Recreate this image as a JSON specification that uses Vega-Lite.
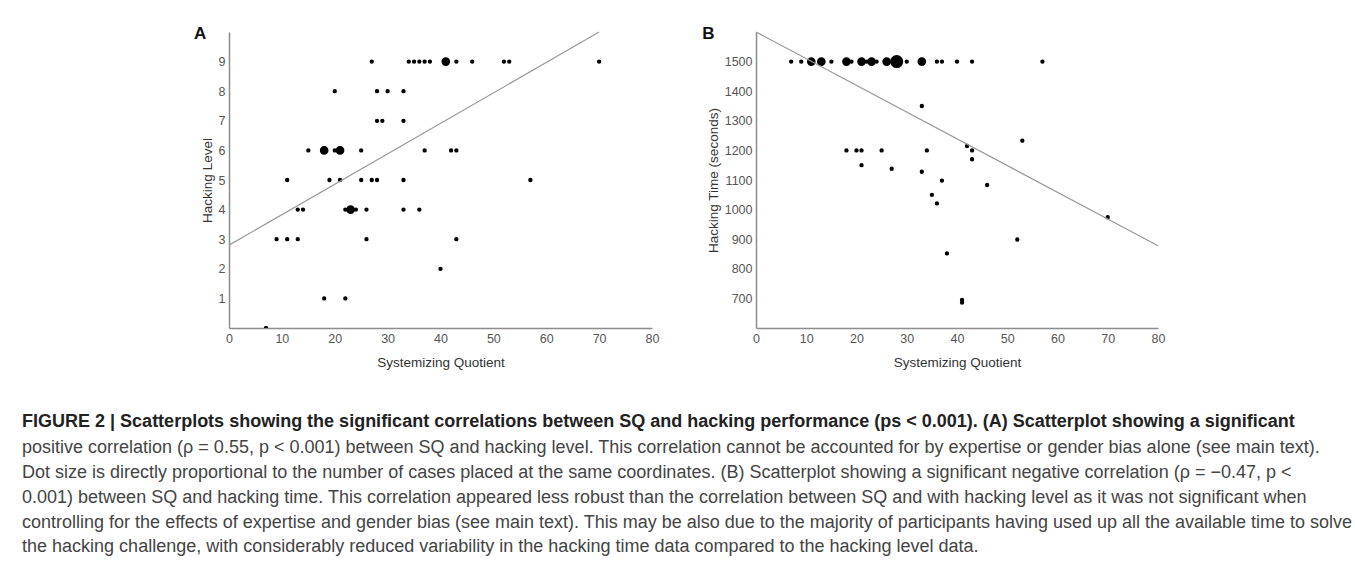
{
  "$schema": "https://vega.github.io/schema/vega-lite/v6.json",
  "background": "white",
  "padding": {"left": 22, "top": 24, "right": 5, "bottom": 5},
  "config": {
    "view": {"stroke": null},
    "font": "Liberation Sans",
    "axis": {
      "domainColor": "#8c8c8c", "domainWidth": 1.5, "ticks": false, "grid": false,
      "labelColor": "#555555", "labelFontSize": 12.5, "labelFont": "Liberation Sans",
      "titleFont": "Liberation Sans", "titleFontSize": 13.5, "titleColor": "#333333",
      "titleFontWeight": "normal", "labelOverlap": false
    },
    "axisX": {"labelPadding": 4, "titlePadding": 11, "labelFlush": false},
    "axisY": {"labelPadding": 4, "titlePadding": 4}
  },
  "title": {
    "text": "FIGURE 2 | Scatterplots showing the significant correlations between SQ and hacking performance (ps < 0.001). (A) Scatterplot showing a significant",
    "subtitle": [
      "positive correlation (ρ = 0.55, p < 0.001) between SQ and hacking level. This correlation cannot be accounted for by expertise or gender bias alone (see main text).",
      "Dot size is directly proportional to the number of cases placed at the same coordinates. (B) Scatterplot showing a significant negative correlation (ρ = −0.47, p <",
      "0.001) between SQ and hacking time. This correlation appeared less robust than the correlation between SQ and with hacking level as it was not significant when",
      "controlling for the effects of expertise and gender bias (see main text). This may be also due to the majority of participants having used up all the available time to solve",
      "the hacking challenge, with considerably reduced variability in the hacking time data compared to the hacking level data."
    ],
    "orient": "bottom", "anchor": "start", "frame": "bounds",
    "font": "Liberation Sans", "fontSize": 18, "fontWeight": "bold", "color": "#222222",
    "subtitleFont": "Liberation Sans", "subtitleFontSize": 18, "subtitleColor": "#444444",
    "subtitleFontWeight": "normal", "subtitleLineHeight": 24.8, "subtitlePadding": 8.2,
    "offset": 44, "dx": -172
  },
  "spacing": 43,
  "resolve": {"scale": {"x": "independent", "y": "independent", "size": "independent"}},
  "hconcat": [
    {
      "width": 423, "height": 296,
      "title": {"text": "A", "anchor": "start", "frame": "bounds", "fontSize": 17, "fontWeight": "bold", "color": "#111111", "offset": 0, "dx": -6, "dy": 13},
      "layer": [
        {
          "data": {"values": [
            {"sq": 27, "level": 9, "n": 1}, {"sq": 34, "level": 9, "n": 1}, {"sq": 35, "level": 9, "n": 1}, {"sq": 36, "level": 9, "n": 1},
            {"sq": 37, "level": 9, "n": 1}, {"sq": 38, "level": 9, "n": 1}, {"sq": 41, "level": 9, "n": 2}, {"sq": 43, "level": 9, "n": 1},
            {"sq": 46, "level": 9, "n": 1}, {"sq": 52, "level": 9, "n": 1}, {"sq": 53, "level": 9, "n": 1}, {"sq": 70, "level": 9, "n": 1},
            {"sq": 20, "level": 8, "n": 1}, {"sq": 28, "level": 8, "n": 1}, {"sq": 30, "level": 8, "n": 1}, {"sq": 33, "level": 8, "n": 1},
            {"sq": 28, "level": 7, "n": 1}, {"sq": 29, "level": 7, "n": 1}, {"sq": 33, "level": 7, "n": 1},
            {"sq": 15, "level": 6, "n": 1}, {"sq": 18, "level": 6, "n": 2}, {"sq": 20, "level": 6, "n": 1}, {"sq": 21, "level": 6, "n": 2},
            {"sq": 25, "level": 6, "n": 1}, {"sq": 37, "level": 6, "n": 1}, {"sq": 42, "level": 6, "n": 1}, {"sq": 43, "level": 6, "n": 1},
            {"sq": 11, "level": 5, "n": 1}, {"sq": 19, "level": 5, "n": 1}, {"sq": 21, "level": 5, "n": 1}, {"sq": 25, "level": 5, "n": 1},
            {"sq": 27, "level": 5, "n": 1}, {"sq": 28, "level": 5, "n": 1}, {"sq": 33, "level": 5, "n": 1}, {"sq": 57, "level": 5, "n": 1},
            {"sq": 13, "level": 4, "n": 1}, {"sq": 14, "level": 4, "n": 1}, {"sq": 22, "level": 4, "n": 1}, {"sq": 23, "level": 4, "n": 2},
            {"sq": 24, "level": 4, "n": 1}, {"sq": 26, "level": 4, "n": 1}, {"sq": 33, "level": 4, "n": 1}, {"sq": 36, "level": 4, "n": 1},
            {"sq": 9, "level": 3, "n": 1}, {"sq": 11, "level": 3, "n": 1}, {"sq": 13, "level": 3, "n": 1}, {"sq": 26, "level": 3, "n": 1},
            {"sq": 43, "level": 3, "n": 1},
            {"sq": 40, "level": 2, "n": 1},
            {"sq": 18, "level": 1, "n": 1}, {"sq": 22, "level": 1, "n": 1},
            {"sq": 7, "level": 0, "n": 1}
          ]},
          "mark": {"type": "circle", "color": "#000000", "opacity": 1, "clip": true},
          "encoding": {
            "x": {"field": "sq", "type": "quantitative", "scale": {"domain": [0, 80], "nice": false}, "axis": {"title": "Systemizing Quotient", "values": [0, 10, 20, 30, 40, 50, 60, 70, 80], "tickCount": 20, "format": "d", "labelOverlap": false}},
            "y": {"field": "level", "type": "quantitative", "scale": {"domain": [0, 10], "nice": false}, "axis": {"title": "Hacking Level", "values": [1, 2, 3, 4, 5, 6, 7, 8, 9], "tickCount": 20, "format": "d", "labelOverlap": false}},
            "size": {"field": "n", "type": "quantitative", "scale": {"type": "pow", "exponent": 2, "domain": [0, 3], "range": [0, 170]}, "legend": null}
          }
        },
        {
          "data": {"values": [{"sq": 0, "level": 2.8}, {"sq": 70, "level": 10}]},
          "mark": {"type": "line", "color": "#9a9a9a", "strokeWidth": 1.2},
          "encoding": {
            "x": {"field": "sq", "type": "quantitative"},
            "y": {"field": "level", "type": "quantitative"}
          }
        }
      ]
    },
    {
      "width": 402, "height": 296,
      "title": {"text": "B", "anchor": "start", "frame": "bounds", "fontSize": 17, "fontWeight": "bold", "color": "#111111", "offset": 0, "dx": -4, "dy": 13},
      "layer": [
        {
          "data": {"values": [
            {"sq": 7, "time": 1500, "n": 1}, {"sq": 9, "time": 1500, "n": 1}, {"sq": 11, "time": 1500, "n": 2}, {"sq": 13, "time": 1500, "n": 2},
            {"sq": 15, "time": 1500, "n": 1}, {"sq": 18, "time": 1500, "n": 2}, {"sq": 19, "time": 1500, "n": 1}, {"sq": 21, "time": 1500, "n": 2},
            {"sq": 22, "time": 1500, "n": 1}, {"sq": 23, "time": 1500, "n": 2}, {"sq": 24, "time": 1500, "n": 1}, {"sq": 26, "time": 1500, "n": 2},
            {"sq": 28, "time": 1500, "n": 3}, {"sq": 30, "time": 1500, "n": 1}, {"sq": 33, "time": 1500, "n": 2}, {"sq": 36, "time": 1500, "n": 1},
            {"sq": 37, "time": 1500, "n": 1}, {"sq": 40, "time": 1500, "n": 1}, {"sq": 43, "time": 1500, "n": 1}, {"sq": 57, "time": 1500, "n": 1},
            {"sq": 33, "time": 1350, "n": 1},
            {"sq": 18, "time": 1200, "n": 1}, {"sq": 20, "time": 1200, "n": 1}, {"sq": 21, "time": 1200, "n": 1}, {"sq": 25, "time": 1200, "n": 1},
            {"sq": 34, "time": 1200, "n": 1}, {"sq": 42, "time": 1215, "n": 1}, {"sq": 43, "time": 1200, "n": 1}, {"sq": 43, "time": 1170, "n": 1},
            {"sq": 53, "time": 1233, "n": 1}, {"sq": 21, "time": 1150, "n": 1}, {"sq": 27, "time": 1138, "n": 1}, {"sq": 33, "time": 1128, "n": 1},
            {"sq": 37, "time": 1098, "n": 1}, {"sq": 46, "time": 1083, "n": 1}, {"sq": 35, "time": 1050, "n": 1}, {"sq": 36, "time": 1021, "n": 1},
            {"sq": 70, "time": 974, "n": 1}, {"sq": 52, "time": 899, "n": 1}, {"sq": 38, "time": 852, "n": 1},
            {"sq": 41, "time": 695, "n": 1}, {"sq": 41, "time": 686, "n": 1}
          ]},
          "mark": {"type": "circle", "color": "#000000", "opacity": 1, "clip": true},
          "encoding": {
            "x": {"field": "sq", "type": "quantitative", "scale": {"domain": [0, 80], "nice": false}, "axis": {"title": "Systemizing Quotient", "values": [0, 10, 20, 30, 40, 50, 60, 70, 80], "tickCount": 20, "format": "d", "labelOverlap": false}},
            "y": {"field": "time", "type": "quantitative", "scale": {"domain": [600, 1600], "nice": false, "zero": false}, "axis": {"title": "Hacking Time (seconds)", "values": [700, 800, 900, 1000, 1100, 1200, 1300, 1400, 1500], "tickCount": 20, "format": "d", "labelOverlap": false}},
            "size": {"field": "n", "type": "quantitative", "scale": {"type": "pow", "exponent": 2, "domain": [0, 3], "range": [0, 170]}, "legend": null}
          }
        },
        {
          "data": {"values": [{"sq": 0, "time": 1600}, {"sq": 80, "time": 878}]},
          "mark": {"type": "line", "color": "#9a9a9a", "strokeWidth": 1.2},
          "encoding": {
            "x": {"field": "sq", "type": "quantitative"},
            "y": {"field": "time", "type": "quantitative"}
          }
        }
      ]
    }
  ]
}
